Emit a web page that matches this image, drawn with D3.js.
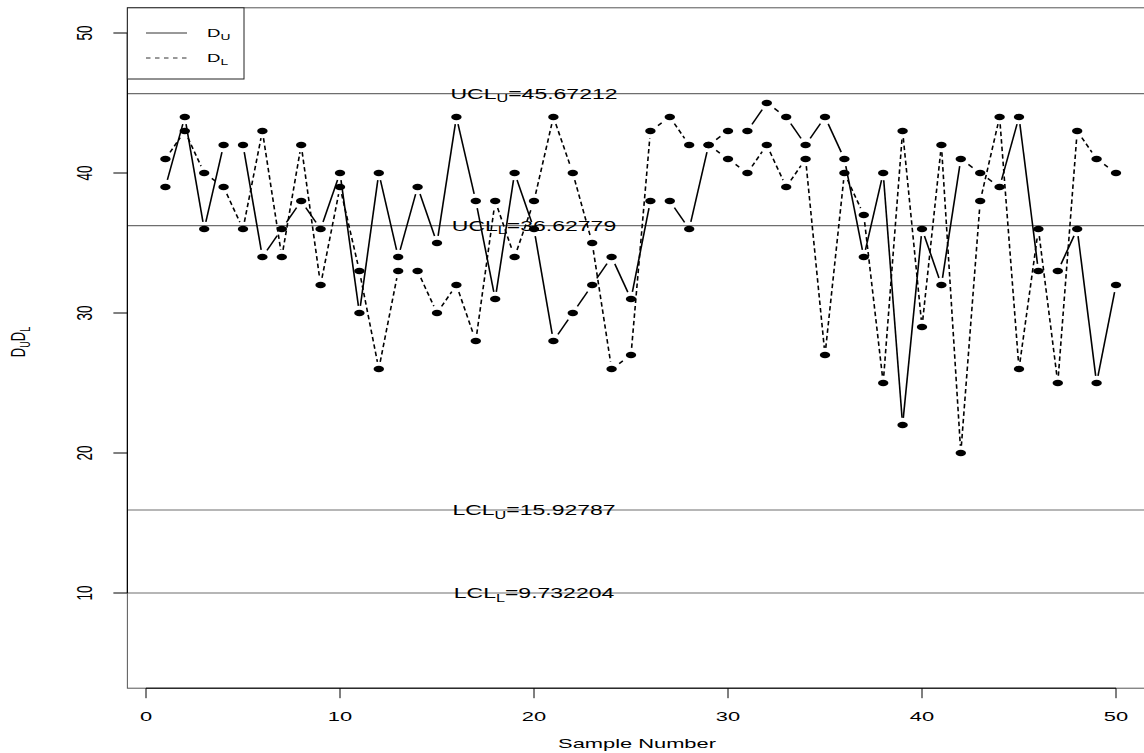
<!DOCTYPE html>
<html>
<head>
<meta charset="utf-8">
<script src="https://cdn.jsdelivr.net/npm/d3@7"></script>
<style>
  html, body { margin: 0; padding: 0; background: #fff; }
  svg { display: block; }
  text { font-family: "Liberation Sans", Arial, Helvetica, sans-serif; fill: #000; }
</style>
</head>
<body>
<svg id="chart" width="1144" height="753"></svg>
<script>
// ---- data ----
const sampleNumbers = d3.range(1, 51);
const seriesU = [39,44,36,42,42,34,36,38,36,40, 30,40,34,39,35,44,38,31,40,36,
                 28,30,32,34,31,38,38,36,42,43, 43,45,44,42,44,41,34,40,22,36,
                 32,41,40,39,44,33,33,36,25,32];
const seriesL = [41,43,40,39,36,43,34,42,32,39, 33,26,33,33,30,32,28,38,34,38,
                 44,40,35,26,27,43,44,42,42,41, 40,42,39,41,27,40,37,25,43,29,
                 42,20,38,44,26,36,25,43,41,40];
const limitNames  = ["UCL", "UCL", "LCL", "LCL"];
const limitSubs   = ["U", "L", "U", "L"];
const limitTexts  = ["45.67212", "36.62779", "15.92787", "9.732204"];
// where the limit lines are drawn in the reference picture
const limitLineValues = [45.67, 36.24, 15.93, 10.0];
const xTicks = [0, 10, 20, 30, 40, 50];
const yTicks = [10, 20, 30, 40, 50];
const legendNames = ["D", "D"];
const legendSubs = ["U", "L"];

// ---- layout ----
const S = 1.62;          // horizontal stretch of the original graphic
const svg = d3.select("#chart");
const x = d3.scaleLinear().domain([0, 50]).range([146, 1116]);
const y = d3.scaleLinear().domain([0, 50]).range([733, 33]);
const xlim = [-0.96, 51.96], ylim = [3.2, 51.8];
const pLeft = x(xlim[0]), pRight = x(xlim[1]), pTop = y(ylim[1]), pBottom = y(ylim[0]);

function sText(g, px, py, opts) {
  return g.append("text")
    .attr("transform", `translate(${px},${py}) scale(${S},1)` + (opts.rotate ? " rotate(-90)" : ""))
    .attr("text-anchor", opts.anchor || "middle")
    .attr("font-size", opts.size);
}
function addSub(t, main, sub, rest, size, subSize) {
  t.append("tspan").text(main);
  t.append("tspan").attr("font-size", subSize).attr("dy", size * 0.25).text(sub);
  if (rest !== null) t.append("tspan").attr("dy", -size * 0.25).attr("font-size", size).text(rest);
}

// frame
svg.append("rect").attr("x", pLeft).attr("y", pTop)
  .attr("width", pRight - pLeft).attr("height", pBottom - pTop)
  .attr("fill", "none").attr("stroke", "#555").attr("stroke-width", 1);

// control limit lines
const limG = svg.append("g");
limitLineValues.forEach((v) => {
  limG.append("line").attr("x1", pLeft).attr("x2", pRight)
    .attr("y1", y(v)).attr("y2", y(v))
    .attr("stroke", "#6e6e6e").attr("stroke-width", 1.2);
});
limitLineValues.forEach((v, i) => {
  const t = sText(limG, x(20), y(v) + 5, { size: 14.2 });
  addSub(t, limitNames[i], limitSubs[i], "=" + limitTexts[i], 14.2, 10);
});

// series
const gap = 7.2;
function segments(vals) {
  const segs = [];
  for (let i = 0; i < vals.length - 1; i++) {
    const x1 = x(sampleNumbers[i]), y1 = y(vals[i]);
    const x2 = x(sampleNumbers[i + 1]), y2 = y(vals[i + 1]);
    const L = Math.hypot((x2 - x1) / S, y2 - y1);
    if (L <= 2 * gap) continue;
    const t = gap / L;
    segs.push([x1 + (x2 - x1) * t, y1 + (y2 - y1) * t, x2 - (x2 - x1) * t, y2 - (y2 - y1) * t]);
  }
  return segs;
}
function drawSeries(vals, dash) {
  const sg = svg.append("g");
  sg.selectAll("line").data(segments(vals)).join("line")
    .attr("x1", d => d[0]).attr("y1", d => d[1])
    .attr("x2", d => d[2]).attr("y2", d => d[3])
    .attr("stroke", "#000").attr("stroke-width", 1.6)
    .attr("stroke-dasharray", dash);
  sg.selectAll("ellipse").data(vals).join("ellipse")
    .attr("cx", (d, i) => x(sampleNumbers[i])).attr("cy", d => y(d))
    .attr("rx", 5.2).attr("ry", 3.2).attr("fill", "#000");
}
drawSeries(seriesL, "4.5,3");
drawSeries(seriesU, null);

// axes
const ax = svg.append("g");
ax.append("line").attr("x1", x(0)).attr("x2", x(50)).attr("y1", pBottom).attr("y2", pBottom)
  .attr("stroke", "#000").attr("stroke-width", 1);
xTicks.forEach(v => {
  ax.append("line").attr("x1", x(v)).attr("x2", x(v)).attr("y1", pBottom).attr("y2", pBottom + 10)
    .attr("stroke", "#000");
  sText(ax, x(v), 721, { size: 13.5 }).text(v);
});
ax.append("line").attr("x1", pLeft).attr("x2", pLeft).attr("y1", y(10)).attr("y2", y(50))
  .attr("stroke", "#000").attr("stroke-width", 1.2);
yTicks.forEach(v => {
  ax.append("line").attr("x1", pLeft - 14).attr("x2", pLeft).attr("y1", y(v)).attr("y2", y(v))
    .attr("stroke", "#000");
  sText(ax, 92, y(v), { size: 13.5, rotate: true }).text(v);
});
sText(ax, 637, 748, { size: 13.5 }).text("Sample Number");
{
  const t = sText(ax, 25, 342, { size: 13, rotate: true });
  t.append("tspan").text("D");
  t.append("tspan").attr("font-size", 9).attr("dy", 3).text("U");
  t.append("tspan").attr("font-size", 13).attr("dy", -3).text("D");
  t.append("tspan").attr("font-size", 9).attr("dy", 3).text("L");
}

// legend
const lg = svg.append("g");
lg.append("rect").attr("x", pLeft).attr("y", pTop).attr("width", 244 - pLeft).attr("height", 79 - pTop)
  .attr("fill", "#fff").attr("stroke", "#222").attr("stroke-width", 1);
legendNames.forEach((nm, i) => {
  const ly = 33 + i * 25;
  lg.append("line").attr("x1", 146).attr("x2", 187).attr("y1", ly).attr("y2", ly)
    .attr("stroke", "#333").attr("stroke-width", 1)
    .attr("stroke-dasharray", i === 1 ? "4.5,4.5" : null);
  const t = sText(lg, 207, ly + 4, { size: 11.5, anchor: "start" });
  addSub(t, nm, legendSubs[i], null, 11.5, 8.5);
});
</script>
</body>
</html>
